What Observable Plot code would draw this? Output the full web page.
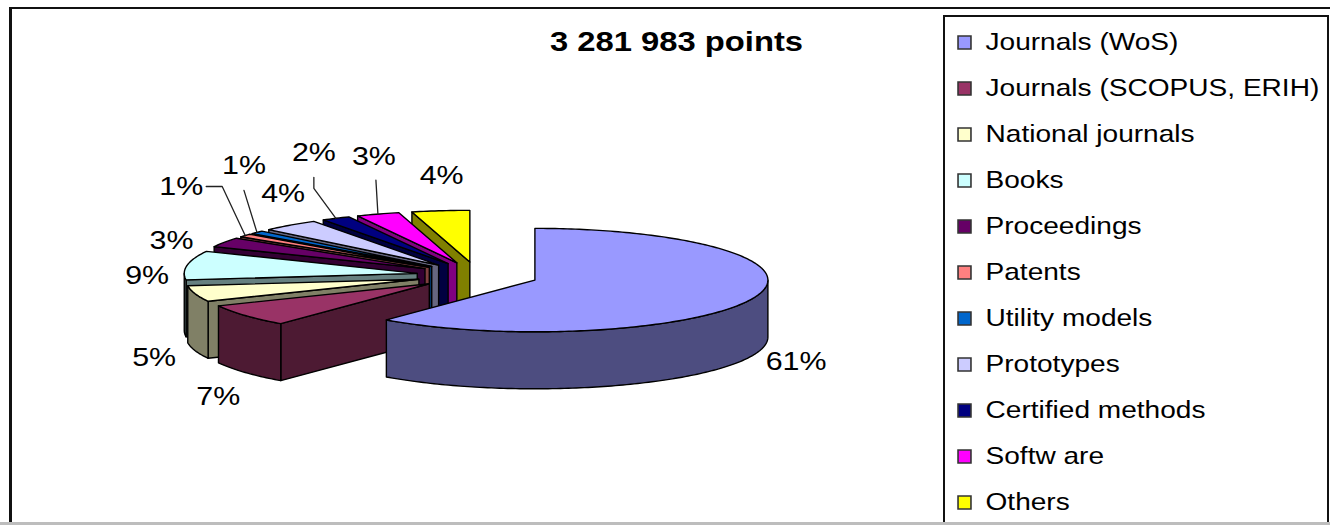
<!DOCTYPE html>
<html>
<head>
<meta charset="utf-8">
<script src="https://cdn.jsdelivr.net/npm/d3@7"></script>
<script src="https://cdn.jsdelivr.net/npm/@observablehq/plot@0.6"></script>
<style>
  html, body { margin: 0; padding: 0; background: #fff; }
  #wrap { position: relative; width: 1330px; height: 525px; overflow: hidden; background: #fff; }
  #chart { position: absolute; left: 0; top: 0; }
  .frame-top { position: absolute; left: 9px; top: 7px; width: 1321px; height: 2px; background: #111; }
  .frame-left { position: absolute; left: 9px; top: 7px; width: 3px; height: 518px; background: #111; }
  .legend-box { position: absolute; left: 943px; top: 15px; width: 382px; height: 520px; border: 2px solid #111; border-bottom: none; }
  .frame-bottom { position: absolute; left: 0; top: 522px; width: 1330px; height: 3px; background: #bdbdbd; }
</style>
</head>
<body>
<div id="wrap">
  <div id="chart"></div>
  <div class="frame-top"></div>
  <div class="frame-left"></div>
  <div class="legend-box"></div>
  <div class="frame-bottom"></div>
</div>
<script>
// ---------------- data ----------------
const title = "3 281 983 points";
const categories = ["Journals (WoS)", "Journals (SCOPUS, ERIH)", "National journals", "Books", "Proceedings", "Patents", "Utility models", "Prototypes", "Certified methods", "Softw are", "Others"];
const shares = [61, 7, 5, 9, 3, 1, 1, 4, 2, 3, 4];
const labels = shares.map(v => v + "%");
const colors = ["#9999FF", "#993366", "#FFFFCC", "#CCFFFF", "#660066", "#FF8080", "#0066CC", "#CCCCFF", "#000080", "#FF00FF", "#FFFF00"];

// ---------------- layout ----------------
const W = 1330, H = 525;
const G = {cx: 477, cy: 275, r: 233, k: 0.222, explode: 61, depth: 57, step: Math.PI / 180};
const labelNudge = [[42, 64.5], [-27, 81], [-41, 63.5], [-40, 10], [-53, -2], [-64, -49], [-13, -67], [-7, -32], [-22, -66], [-4, -57], [1, -35]];
const leaderPath = [null, null, null, null, null, [[25, 0], [41, 0]], [[0, 25]], null, [[0, 25], [0, 36]], [[2, 23]], null];
const L = {titleX: 676, titleY: 42, markX: 964, textX: 985, rowY0: 42, rowStep: 46};
const TEXT_STRETCH = 1.17;

// ---------------- geometry ----------------
const TAU = Math.PI * 2;
const total = d3.sum(shares);
const project = (X, Y, z) => [G.cx + X, G.cy - G.k * Y + z * G.depth];
const darken = (c, f) => { const q = d3.rgb(c); return d3.rgb(q.r * f, q.g * f, q.b * f).formatHex(); };
const angles = (lo, hi) => {
  const n = Math.max(2, Math.ceil((hi - lo) / G.step));
  return d3.range(n + 1).map(j => lo + (hi - lo) * j / n);
};

let acc = 0;
const slices = shares.map((v, i) => {
  const a0 = acc / total * TAU; acc += v; const a1 = acc / total * TAU;
  const m = (a0 + a1) / 2;
  const ox = G.explode * Math.sin(m), oy = G.explode * Math.cos(m);
  const arc = t => [ox + G.r * Math.sin(t), oy + G.r * Math.cos(t)];
  const arcAngles = angles(a0, a1);
  const minY = Math.min(oy, ...arcAngles.map(t => arc(t)[1]));
  return {i, a0, a1, m, ox, oy, arc, arcAngles, minY};
});

const facePoints = [];
let faceId = 0;
function addFace(pts, fill) {
  const id = faceId++;
  for (const [x, y] of pts) facePoints.push({face: id, fill, x, y});
}

const order = slices.slice().sort((a, b) => b.minY - a.minY);
for (const s of order) {
  const top = colors[s.i], side = darken(colors[s.i], 0.5);
  const V = [s.ox, s.oy];
  const radial = t => {
    const p = s.arc(t);
    return [project(V[0], V[1], 0), project(p[0], p[1], 0), project(p[0], p[1], 1), project(V[0], V[1], 1)];
  };
  if (Math.sin(s.a0) < -1e-9) addFace(radial(s.a0), side);
  if (Math.sin(s.a1) > 1e-9) addFace(radial(s.a1), side);
  const lo = Math.max(s.a0, Math.PI / 2), hi = Math.min(s.a1, 3 * Math.PI / 2);
  if (hi > lo) {
    const as = angles(lo, hi);
    const upper = as.map(t => { const p = s.arc(t); return project(p[0], p[1], 0); });
    const lower = as.slice().reverse().map(t => { const p = s.arc(t); return project(p[0], p[1], 1); });
    addFace(upper.concat(lower), side);
  }
  const topPts = [project(V[0], V[1], 0)].concat(s.arcAngles.map(t => { const p = s.arc(t); return project(p[0], p[1], 0); }));
  addFace(topPts, top);
}

// labels
const labelData = slices.map(s => {
  const p = s.arc(s.m);
  const [ax, ay] = project(p[0], p[1], 0);
  return {text: labels[s.i], ax, ay, x: ax + labelNudge[s.i][0], y: ay + labelNudge[s.i][1], i: s.i};
});
const leaderPts = [];
for (const d of labelData) {
  const lp = leaderPath[d.i];
  if (!lp) continue;
  for (const [dx, dy] of lp) leaderPts.push({id: d.i, x: d.x + dx, y: d.y + dy});
  leaderPts.push({id: d.i, x: d.ax, y: d.ay});
}

const legendData = categories.map((c, i) => ({name: c, color: colors[i], y: L.rowY0 + i * L.rowStep}));

const chart = Plot.plot({
  width: W,
  height: H,
  margin: 0,
  x: {type: "linear", domain: [0, W], range: [0, W], axis: null},
  y: {type: "linear", domain: [0, H], range: [0, H], axis: null},
  color: {type: "identity"},
  style: {background: "transparent", fontFamily: "'Liberation Sans', Arial, sans-serif", color: "#000"},
  marks: [
    Plot.line(facePoints, {x: "x", y: "y", z: "face", fill: "fill", stroke: "#000", strokeWidth: 1.4, strokeLinejoin: "round", curve: "linear-closed"}),
    Plot.line(leaderPts, {x: "x", y: "y", z: "id", stroke: "#222", strokeWidth: 1.3, fill: "none"}),
    Plot.text(labelData, {x: "x", y: "y", text: "text", fontSize: 26, fill: "#000", textAnchor: "middle"}),
    Plot.text([title], {x: () => L.titleX, y: () => L.titleY, text: d => d, fontSize: 28, fontWeight: "bold", fill: "#000", textAnchor: "middle"}),
    Plot.dot(legendData, {x: () => L.markX, y: "y", symbol: "square", r: 7.3, fill: "color", stroke: "#333", strokeWidth: 1.6}),
    Plot.text(legendData, {x: () => L.textX, y: "y", text: "name", fontSize: 24, fill: "#000", textAnchor: "start"})
  ]
});

// horizontal stretch of the text, as in the reference rendering
for (const t of chart.querySelectorAll("text")) {
  const tr = t.getAttribute("transform");
  if (tr && tr.includes("translate")) {
    t.setAttribute("transform", tr + ` scale(${TEXT_STRETCH},1)`);
  } else {
    const x = +(t.getAttribute("x") || 0), y = +(t.getAttribute("y") || 0);
    t.setAttribute("transform", `translate(${x},${y}) scale(${TEXT_STRETCH},1) translate(${-x},${-y})`);
  }
}
document.getElementById("chart").appendChild(chart);
</script>
</body>
</html>
